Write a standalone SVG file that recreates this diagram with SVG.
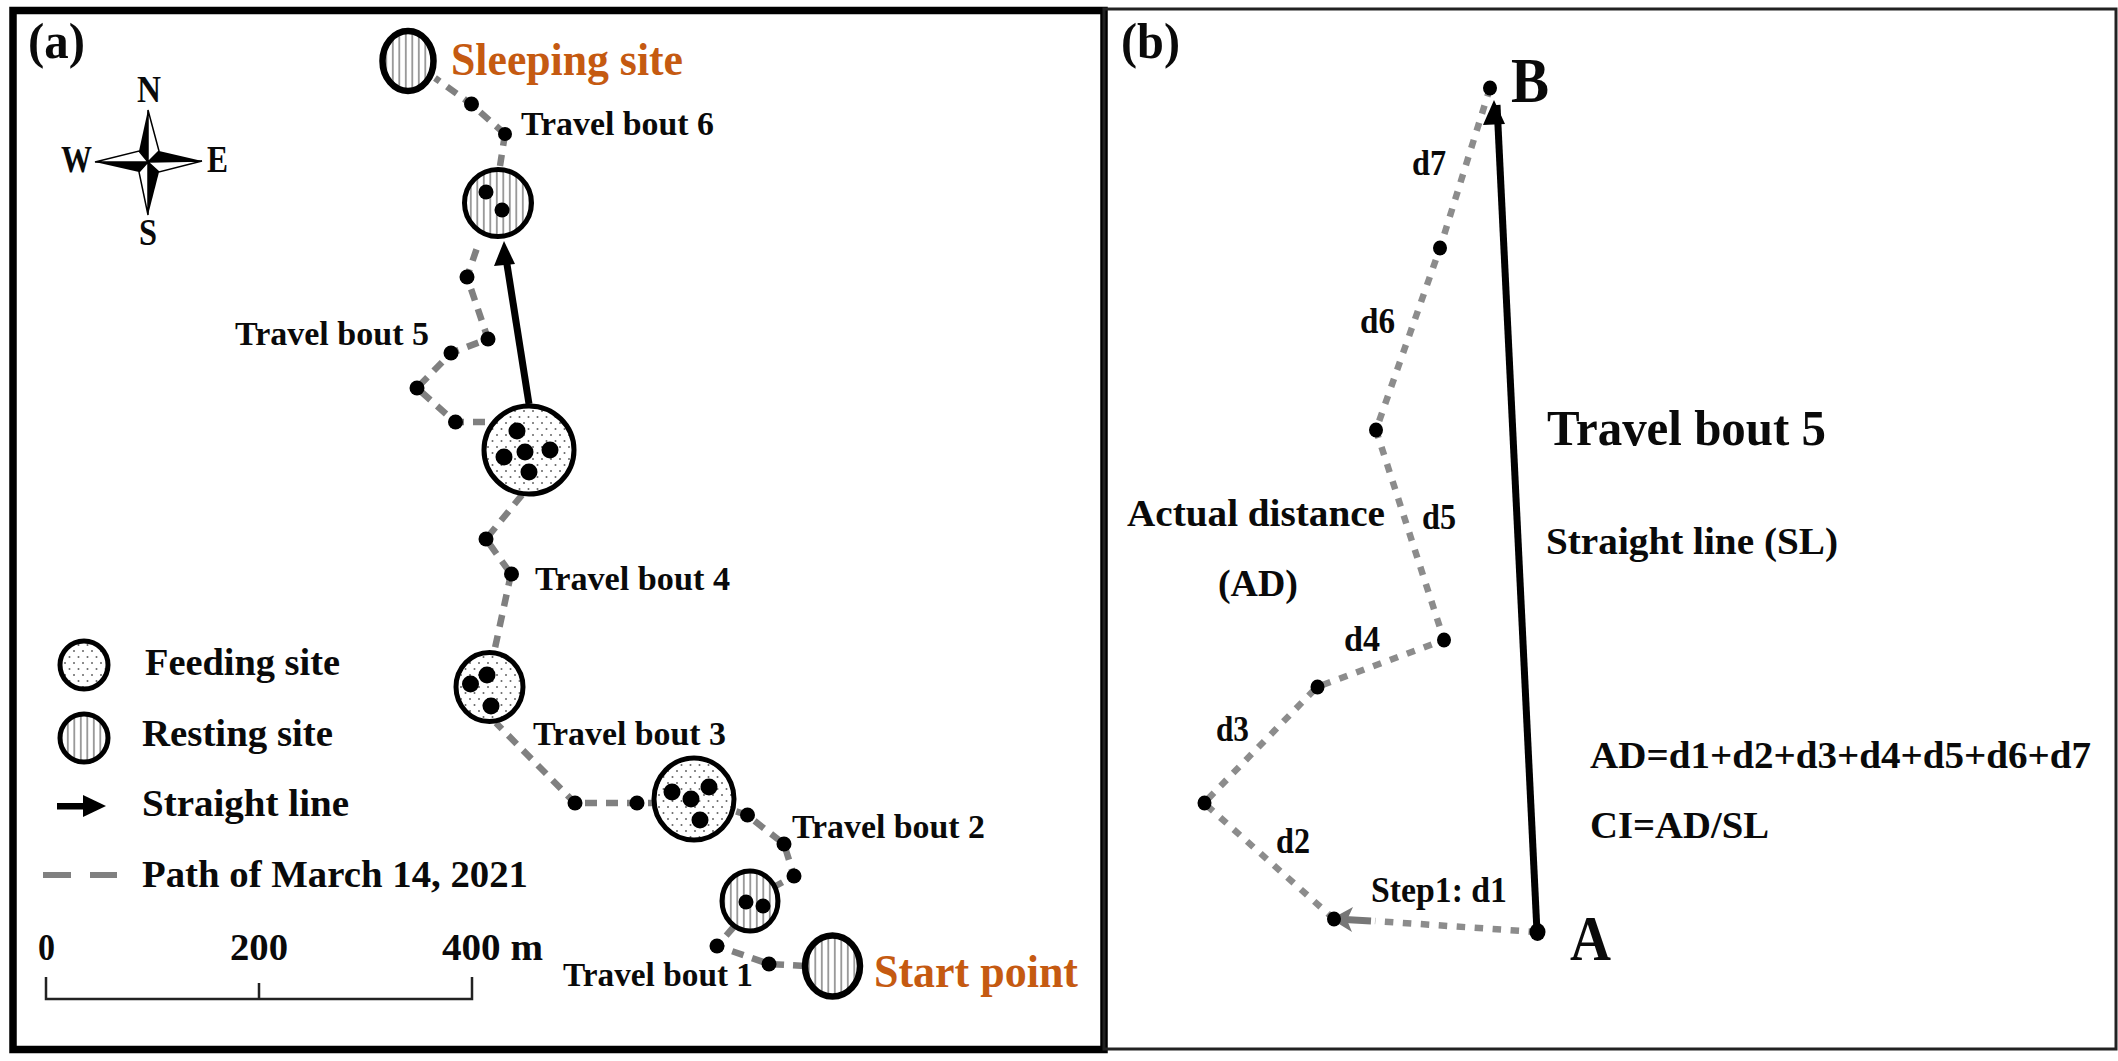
<svg xmlns="http://www.w3.org/2000/svg" width="2118" height="1061" viewBox="0 0 2118 1061">
<style>
text{font-family:"Liberation Serif","Times New Roman",serif;font-weight:bold;fill:#0a0a0a}
.t{font-size:34px}.o{font-size:46px;fill:#c55a11}.l{font-size:37px}.p{font-size:50px}.c{font-size:37px}
.m{font-size:36px}
.dash{fill:none;stroke:#808080;stroke-width:6.5;stroke-dasharray:12 9}
.dot2{fill:none;stroke:#8c8c8c;stroke-width:6.5;stroke-dasharray:8.5 9.5}
.site{stroke:#000;stroke-width:5}.end{stroke:#000;stroke-width:6.5}
.f{fill:url(#dots)}.r{fill:url(#hatch)}
</style>
<defs>
<pattern id="hatch" patternUnits="userSpaceOnUse" width="6.5" height="6.5"><rect width="6.5" height="6.5" fill="#fff"/><rect x="2" width="1.6" height="6.5" fill="#8a8a8a"/></pattern>
<pattern id="dots" patternUnits="userSpaceOnUse" width="9" height="12"><rect width="9" height="12" fill="#fff"/><circle cx="2" cy="3" r="1" fill="#666"/><circle cx="6.5" cy="9" r="1" fill="#666"/></pattern>
</defs>
<rect width="2118" height="1061" fill="#fff"/>

<g id="panel-a-frame"><rect x="13" y="10.5" width="1091" height="1039" fill="none" stroke="#000" stroke-width="7.5"/></g>
<g id="panel-b-frame"><rect x="1104" y="9" width="1012" height="1040" fill="none" stroke="#222" stroke-width="3"/></g>

<g id="connectors">
<path class="dash" d="M805 966L769 964L717 946L738 922M772 888L794 876L784 844L747 815L726 808M660 803L637 803L575 803L496 723M511 574L495 648M522 495L486 539L511 574M485 422L455 422L417 388L451 353L488 339L467 277L478 245M505 134L500 166M505 134L471 104L435 78"/>
<line x1="529" y1="404" x2="506" y2="258" stroke="#000" stroke-width="7"/>
<path d="M504 241L515 264L494 266Z" fill="#000"/>
<path class="dot2" d="M1537 932L1375 921M1334 919L1204 803L1317 687L1444 640L1376 430L1440 248L1490 88"/>
<line x1="1537" y1="932" x2="1497" y2="105" stroke="#000" stroke-width="7"/>
<path d="M1494 100L1505 124L1483 125Z" fill="#000"/>
<line x1="1371" y1="921" x2="1345" y2="919.5" stroke="#777" stroke-width="7"/>
<path d="M1331 919L1353 907L1347 920L1352 932Z" fill="#777"/>
</g>

<g id="sleeping-site"><ellipse class="r end" cx="408" cy="61" rx="25.5" ry="30"/></g>
<g id="resting-2"><ellipse class="r site" cx="498" cy="203" rx="33.5" ry="33.5"/><circle cx="486" cy="192" r="7.5"/><circle cx="502" cy="210" r="7.5"/></g>
<g id="feeding-big"><ellipse class="f site" cx="529" cy="450" rx="45" ry="44"/><circle cx="517" cy="431" r="8.5"/><circle cx="504" cy="457" r="8.5"/><circle cx="525" cy="452" r="8.5"/><circle cx="550" cy="450" r="8.5"/><circle cx="529" cy="472" r="8.5"/></g>
<g id="feeding-3"><ellipse class="f site" cx="489.5" cy="687" rx="33.5" ry="34.5"/><circle cx="487" cy="675" r="8.5"/><circle cx="470.5" cy="684" r="8.5"/><circle cx="491" cy="706" r="8.5"/></g>
<g id="feeding-2"><ellipse class="f site" cx="694" cy="799" rx="40" ry="41"/><circle cx="672" cy="792" r="8.5"/><circle cx="691" cy="799" r="8.5"/><circle cx="709" cy="787" r="8.5"/><circle cx="700" cy="820" r="8.5"/></g>
<g id="resting-1"><ellipse class="r site" cx="750" cy="901" rx="28" ry="30"/><circle cx="746" cy="902" r="7.5"/><circle cx="763" cy="906" r="7.5"/></g>
<g id="start-point"><ellipse class="r end" cx="832.5" cy="966" rx="27.5" ry="30.5"/></g>

<g id="waypoints-a">
<circle cx="471.5" cy="104" r="7.5"/><circle cx="505" cy="134" r="7"/><circle cx="467" cy="277" r="7.5"/><circle cx="488" cy="339" r="7.5"/><circle cx="451" cy="353" r="7.5"/><circle cx="417" cy="388" r="7.5"/><circle cx="455.5" cy="422" r="7.5"/><circle cx="486" cy="539" r="7.5"/><circle cx="511.5" cy="574" r="7.5"/><circle cx="575" cy="803" r="7.5"/><circle cx="637" cy="803" r="7.5"/><circle cx="747.5" cy="815" r="7.5"/><circle cx="784" cy="844" r="7.5"/><circle cx="794" cy="876" r="7.5"/><circle cx="717" cy="946" r="7.5"/><circle cx="769" cy="964" r="7.5"/>
</g>

<g id="waypoints-b">
<ellipse cx="1490" cy="88" rx="7" ry="7.5"/><ellipse cx="1440" cy="248" rx="7" ry="7.5"/><ellipse cx="1376" cy="430" rx="7" ry="7.5"/><ellipse cx="1444" cy="640" rx="7" ry="7.5"/><ellipse cx="1317.5" cy="687" rx="7" ry="7.5"/><ellipse cx="1204.5" cy="803" rx="7" ry="7.5"/><ellipse cx="1334" cy="919" rx="7" ry="7.5"/><ellipse cx="1537.5" cy="932" rx="8" ry="9"/>
</g>

<g id="compass">
<path d="M148 110L159 151L148 162Z" fill="#fff" stroke="#000" stroke-width="1.5"/><path d="M148 110L139 151L148 162Z" fill="#000"/>
<path d="M202 161L159 172L148 162Z" fill="#fff" stroke="#000" stroke-width="1.5"/><path d="M202 161L159 151L148 162Z" fill="#000"/>
<path d="M148 215L139 172L148 162Z" fill="#fff" stroke="#000" stroke-width="1.5"/><path d="M148 215L159 172L148 162Z" fill="#000"/>
<path d="M95 162L139 151L148 162Z" fill="#fff" stroke="#000" stroke-width="1.5"/><path d="M95 162L139 172L148 162Z" fill="#000"/>
<text class="c" x="137" y="102" textLength="24" lengthAdjust="spacingAndGlyphs">N</text>
<text class="c" x="139" y="245" textLength="18" lengthAdjust="spacingAndGlyphs">S</text>
<text class="c" x="61" y="172" textLength="31" lengthAdjust="spacingAndGlyphs">W</text>
<text class="c" x="207" y="172" textLength="21" lengthAdjust="spacingAndGlyphs">E</text>
</g>

<g id="legend">
<ellipse class="f site" cx="84" cy="665" rx="24" ry="24"/>
<ellipse class="r site" cx="84" cy="738" rx="24" ry="24"/>
<rect x="57" y="803" width="29" height="6.5" fill="#000"/><path d="M83 795L106 806L83 817Z" fill="#000"/>
<rect x="43" y="872" width="28" height="6" fill="#808080"/><rect x="90" y="872" width="27" height="6" fill="#808080"/>
<text class="l" x="145" y="675" textLength="195" lengthAdjust="spacingAndGlyphs">Feeding site</text>
<text class="l" x="142" y="746" textLength="191" lengthAdjust="spacingAndGlyphs">Resting site</text>
<text class="l" x="142" y="816" textLength="207" lengthAdjust="spacingAndGlyphs">Straight line</text>
<text class="l" x="142" y="887" textLength="386" lengthAdjust="spacingAndGlyphs">Path of March 14, 2021</text>
</g>

<g id="scale-bar">
<path d="M46 977V999H472V977M259 983V999" fill="none" stroke="#222" stroke-width="2.5"/>
<text class="l" x="38" y="960" textLength="17" lengthAdjust="spacingAndGlyphs">0</text>
<text class="l" x="230" y="960" textLength="58" lengthAdjust="spacingAndGlyphs">200</text>
<text class="l" x="442" y="960" textLength="101" lengthAdjust="spacingAndGlyphs">400 m</text>
</g>

<g id="labels-a">
<text class="p" x="28" y="58" textLength="57" lengthAdjust="spacingAndGlyphs">(a)</text>
<text class="o" x="451" y="75" textLength="232" lengthAdjust="spacingAndGlyphs">Sleeping site</text>
<text class="o" x="874" y="987" textLength="204" lengthAdjust="spacingAndGlyphs">Start point</text>
<text class="t" x="521" y="135" textLength="193" lengthAdjust="spacingAndGlyphs">Travel bout 6</text>
<text class="t" x="235" y="345" textLength="194" lengthAdjust="spacingAndGlyphs">Travel bout 5</text>
<text class="t" x="535" y="590" textLength="195" lengthAdjust="spacingAndGlyphs">Travel bout 4</text>
<text class="t" x="533" y="745" textLength="193" lengthAdjust="spacingAndGlyphs">Travel bout 3</text>
<text class="t" x="792" y="838" textLength="193" lengthAdjust="spacingAndGlyphs">Travel bout 2</text>
<text class="t" x="563" y="986" textLength="190" lengthAdjust="spacingAndGlyphs">Travel bout 1</text>
</g>

<g id="labels-b">
<text class="p" x="1121" y="58" textLength="59" lengthAdjust="spacingAndGlyphs">(b)</text>
<text x="1511" y="102" font-size="64" textLength="38" lengthAdjust="spacingAndGlyphs">B</text>
<text x="1570" y="960" font-size="64" textLength="41" lengthAdjust="spacingAndGlyphs">A</text>
<text x="1547" y="445" font-size="50" textLength="279" lengthAdjust="spacingAndGlyphs">Travel bout 5</text>
<text class="l" x="1546" y="554" textLength="292" lengthAdjust="spacingAndGlyphs">Straight line (SL)</text>
<text class="l" x="1127" y="526" textLength="258" lengthAdjust="spacingAndGlyphs">Actual distance</text>
<text class="l" x="1218" y="596" textLength="80" lengthAdjust="spacingAndGlyphs">(AD)</text>
<text class="l" x="1590" y="768" textLength="501" lengthAdjust="spacingAndGlyphs">AD=d1+d2+d3+d4+d5+d6+d7</text>
<text class="l" x="1590" y="838" textLength="179" lengthAdjust="spacingAndGlyphs">CI=AD/SL</text>
<text class="m" x="1412" y="175" textLength="34" lengthAdjust="spacingAndGlyphs">d7</text>
<text class="m" x="1360" y="333" textLength="35" lengthAdjust="spacingAndGlyphs">d6</text>
<text class="m" x="1422" y="529" textLength="34" lengthAdjust="spacingAndGlyphs">d5</text>
<text class="m" x="1344" y="651" textLength="36" lengthAdjust="spacingAndGlyphs">d4</text>
<text class="m" x="1216" y="741" textLength="33" lengthAdjust="spacingAndGlyphs">d3</text>
<text class="m" x="1276" y="853" textLength="34" lengthAdjust="spacingAndGlyphs">d2</text>
<text class="m" x="1371" y="902" textLength="136" lengthAdjust="spacingAndGlyphs">Step1: d1</text>
</g>
</svg>
